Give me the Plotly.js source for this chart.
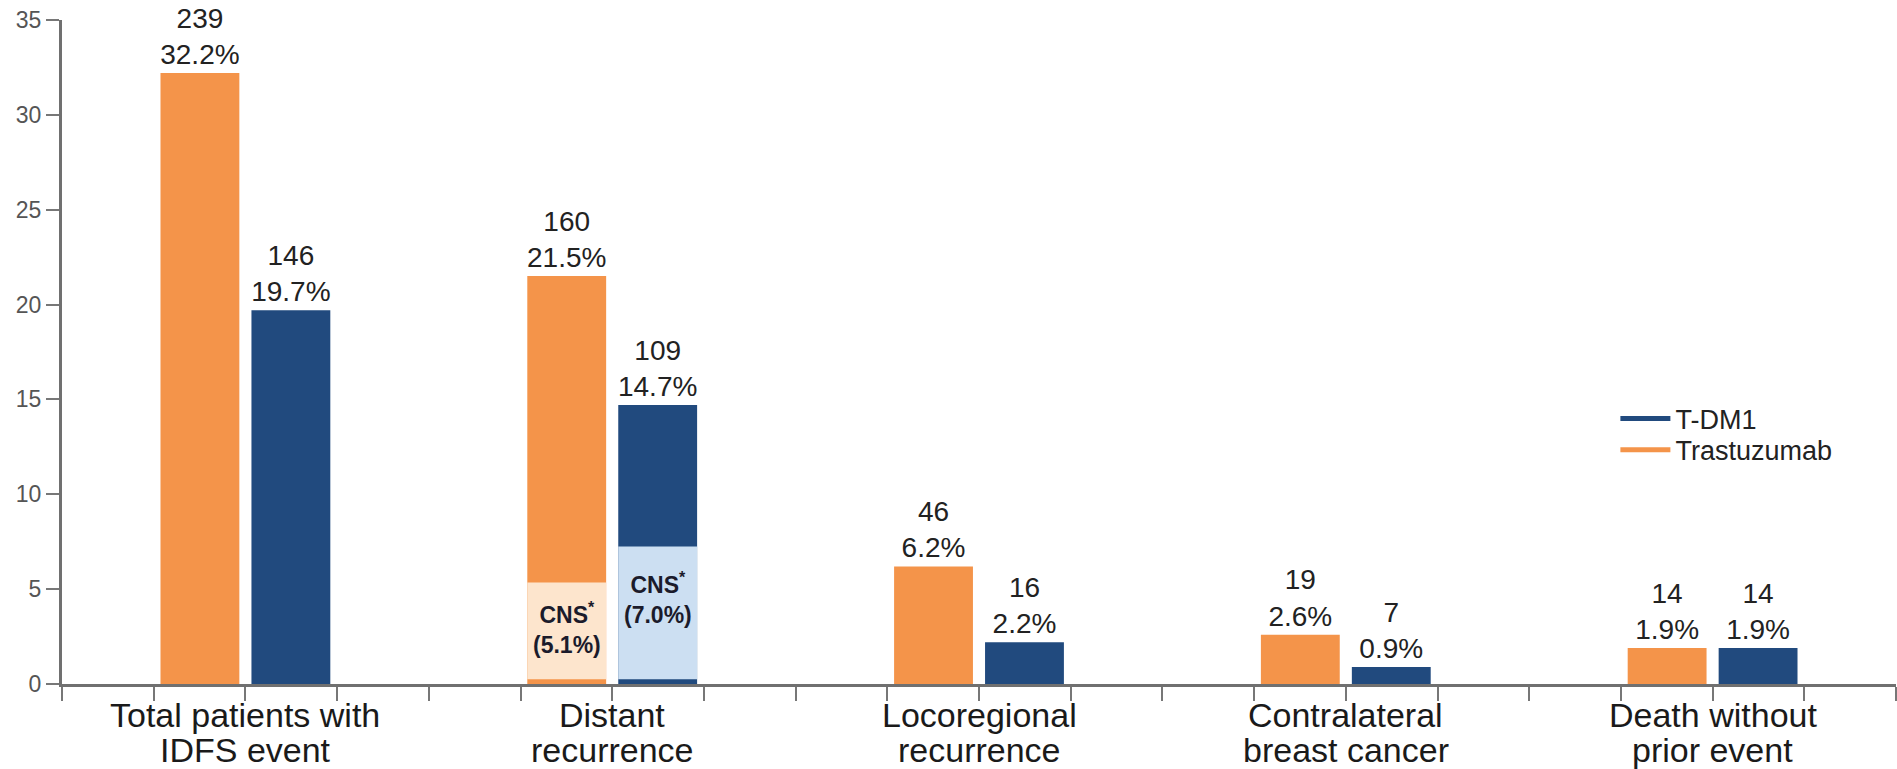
<!DOCTYPE html>
<html>
<head>
<meta charset="utf-8">
<script src="https://cdn.plot.ly/plotly-3.0.1.min.js"></script>
<style>
  html, body { margin: 0; padding: 0; background: #ffffff; }
  #chart { width: 1897px; height: 769px; }
</style>
</head>
<body>
<div id="chart"></div>
<script>
// IDFS events by type, percent of patients in each arm
const categoryLine1 = ["Total patients with", "Distant", "Locoregional", "Contralateral", "Death without"];
const categoryLine2 = ["IDFS event", "recurrence", "recurrence", "breast cancer", "prior event"];
const trastuzumabPct = [32.2, 21.5, 6.2, 2.6, 1.9];
const trastuzumabN   = [239, 160, 46, 19, 14];
const tdm1Pct        = [19.7, 14.7, 2.2, 0.9, 1.9];
const tdm1N          = [146, 109, 16, 7, 14];

// CNS share of distant recurrence (category index 1)
const cnsCategory = 1;
const cnsTrastuzumab = 5.1;
const cnsTdm1 = 7.0;

const yTicks = [0, 5, 10, 15, 20, 25, 30, 35];

// colours
const ORANGE = "#F4944A";
const NAVY = "#214A7E";
const ORANGE_LIGHT = "#FDE5CD";
const NAVY_LIGHT = "#CCDFF2";

const FONT = "Liberation Sans, Arial, sans-serif";

// layout helpers
const idx = categoryLine1.map((_, i) => i);
const half = 0.124;           // offset of each bar from the group centre
const barW = 0.215;           // bar width in category units
const cnsBase = 0.25;         // thin strip of arm colour under the CNS block

const labelFont = { family: FONT, size: 28, color: "#222222" };

const valueText = (n, p) => n.map((v, i) => v + "<br>" + p[i].toFixed(1) + "%");

const traces = [
  {
    type: "bar", name: "Trastuzumab", showlegend: false,
    x: idx.map(i => i - half), y: trastuzumabPct, width: barW,
    marker: { color: ORANGE },
    text: valueText(trastuzumabN, trastuzumabPct),
    textposition: "outside", constraintext: "none", cliponaxis: false,
    textfont: labelFont, hoverinfo: "skip"
  },
  {
    type: "bar", name: "T-DM1", showlegend: false,
    x: idx.map(i => i + half), y: tdm1Pct, width: barW,
    marker: { color: NAVY },
    text: valueText(tdm1N, tdm1Pct),
    textposition: "outside", constraintext: "none", cliponaxis: false,
    textfont: labelFont, hoverinfo: "skip"
  },
  {
    type: "bar", showlegend: false,
    x: [cnsCategory - half], y: [cnsTrastuzumab], base: [cnsBase], width: barW,
    marker: { color: ORANGE_LIGHT }, hoverinfo: "skip"
  },
  {
    type: "bar", showlegend: false,
    x: [cnsCategory + half], y: [cnsTdm1], base: [cnsBase], width: barW,
    marker: { color: NAVY_LIGHT }, hoverinfo: "skip"
  },
  // legend entries drawn as lines, one legend box each so the rows sit close
  {
    type: "scatter", mode: "lines", name: "T-DM1", legend: "legend",
    x: [null], y: [null], line: { color: NAVY, width: 5 }, hoverinfo: "skip"
  },
  {
    type: "scatter", mode: "lines", name: "Trastuzumab", legend: "legend2",
    x: [null], y: [null], line: { color: ORANGE, width: 5 }, hoverinfo: "skip"
  }
];

// x ticks every quarter category, unlabeled
const tickvals = [];
for (let k = -2; k <= (idx.length - 1) * 4 + 2; k++) tickvals.push(k / 4);

const catFont = { family: FONT, size: 34, color: "#1a1a1a" };
const annotations = [];
idx.forEach(i => {
  annotations.push({
    x: i, y: 0, xref: "x", yref: "paper", text: categoryLine1[i],
    showarrow: false, yanchor: "top", yshift: -10, font: catFont
  });
  annotations.push({
    x: i, y: 0, xref: "x", yref: "paper", text: categoryLine2[i],
    showarrow: false, yanchor: "top", yshift: -45, font: catFont
  });
});

const cnsFont = { family: FONT, size: 23, color: "#1b1b2b" };
annotations.push({
  x: cnsCategory - half, y: cnsBase + cnsTrastuzumab, xref: "x", yref: "y",
  text: "<b>CNS<sup>*</sup></b><br><b>(" + cnsTrastuzumab.toFixed(1) + "%)</b>",
  showarrow: false, yanchor: "top", yshift: -13, font: cnsFont
});
annotations.push({
  x: cnsCategory + half, y: cnsBase + cnsTdm1, xref: "x", yref: "y",
  text: "<b>CNS<sup>*</sup></b><br><b>(" + cnsTdm1.toFixed(1) + "%)</b>",
  showarrow: false, yanchor: "top", yshift: -20, font: cnsFont
});

const legendFont = { family: FONT, size: 27, color: "#222222" };
const legendBase = {
  xanchor: "left", yanchor: "middle",
  font: legendFont, bgcolor: "rgba(0,0,0,0)", itemwidth: 50, borderwidth: 0
};

const layout = {
  width: 1897, height: 769,
  margin: { l: 62, r: 1, t: 20, b: 85, pad: 0 },
  paper_bgcolor: "#ffffff", plot_bgcolor: "#ffffff",
  barmode: "overlay",
  showlegend: true,
  legend: Object.assign({ x: 0.847, y: 0.399 }, legendBase),
  legend2: Object.assign({ x: 0.847, y: 0.352 }, legendBase),
  xaxis: {
    range: [-0.5, 4.5], fixedrange: true,
    tickmode: "array", tickvals: tickvals, showticklabels: false,
    ticks: "outside", ticklen: 14, tickwidth: 2, tickcolor: "#777777",
    showline: true, linecolor: "#707070", linewidth: 3,
    showgrid: false, zeroline: false
  },
  yaxis: {
    range: [0, 35], fixedrange: true,
    tickmode: "array", tickvals: yTicks,
    ticks: "outside", ticklen: 13, tickwidth: 2, tickcolor: "#777777",
    showline: true, linecolor: "#707070", linewidth: 3,
    showgrid: false, zeroline: false,
    tickfont: { family: FONT, size: 23, color: "#555555" }
  },
  annotations: annotations
};

Plotly.newPlot("chart", traces, layout, { staticPlot: true, displayModeBar: false });
</script>
</body>
</html>
